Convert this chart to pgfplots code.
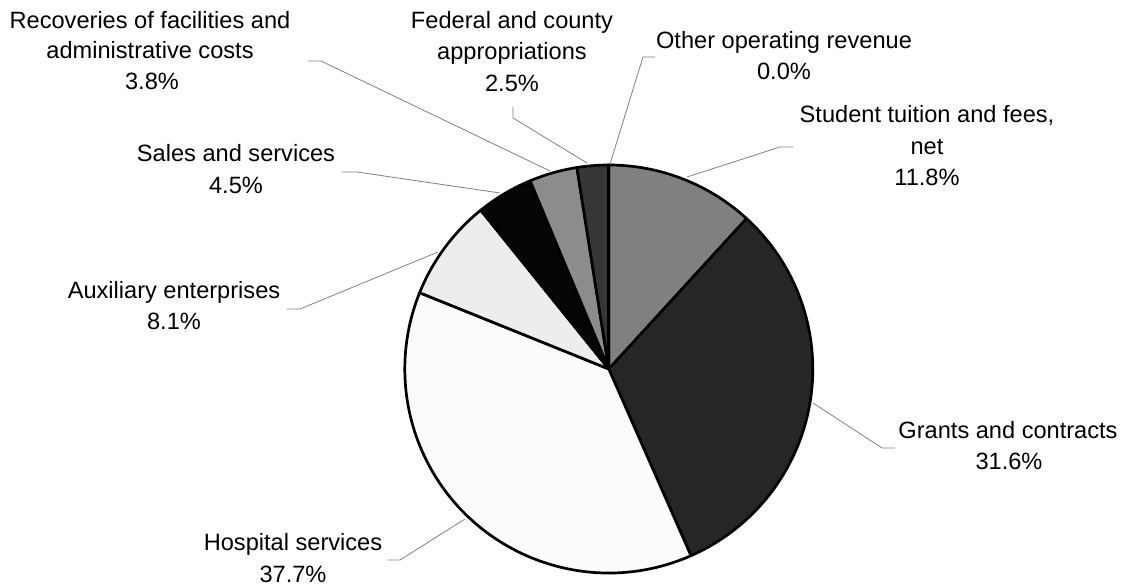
\documentclass[border=0pt]{standalone}
\usepackage{pgfplots}
\usepackage{pgfplotstable}
\pgfplotsset{compat=1.18}
\usepackage{fontspec}
\setmainfont{Liberation Sans}

% revenue shares in percent, clockwise from 12 o'clock; g = grey level of the slice
\pgfplotstableread{
share g
11.8  0.50
31.6  0.15
37.7  0.985
8.1   0.93
4.5   0.02
3.8   0.55
2.5   0.21
0.0   0.50
}\piedata

\newcommand{\lbl}[3]{\node[anchor=base,inner sep=0pt] at (axis cs:#1,#2) {#3};}

\begin{document}
\begin{tikzpicture}
\useasboundingbox (0,0) rectangle (1126pt,586pt);
\begin{axis}[
    scale only axis,
    width=1126pt, height=586pt,
    xmin=0, xmax=1126, ymin=0, ymax=586,
    hide axis, clip=false,
    font=\fontsize{23.6}{31}\selectfont,
    ]
    \pgfplotsextra{%
        \gdef\pieacc{0}%
        \foreach \i in {0,...,7}{%
            \pgfplotstablegetelem{\i}{share}\of\piedata \let\v\pgfplotsretval
            \pgfplotstablegetelem{\i}{g}\of\piedata \let\g\pgfplotsretval
            \definecolor{slicecol}{gray}{\g}%
            \pgfmathsetmacro\sa{90-3.6*\pieacc}%
            \pgfmathsetmacro\ea{90-3.6*(\pieacc+\v)}%
            \draw[line width=2.7pt, line join=round, fill=slicecol]
                (axis cs:608.8,217) -- ++(\sa:204pt)
                arc[start angle=\sa, end angle=\ea, radius=204pt] -- cycle;
            \pgfmathsetmacro\newacc{\pieacc+\v}\xdef\pieacc{\newacc}%
        }%
    }

    % leader lines
    \begin{scope}[draw={rgb,255:red,128;green,128;blue,128}, line width=0.8pt]
        \draw (axis cs:308,525) -- (axis cs:321,525) -- (axis cs:550,415);
        \draw (axis cs:513,479) -- (axis cs:513,468) -- (axis cs:587,423);
        \draw (axis cs:655,529) -- (axis cs:643,529) -- (axis cs:610,422);
        \draw (axis cs:793,439) -- (axis cs:780,439) -- (axis cs:687,409);
        \draw (axis cs:342,414) -- (axis cs:357,414) -- (axis cs:500,393);
        \draw (axis cs:287,277) -- (axis cs:300,277) -- (axis cs:438,334);
        \draw (axis cs:813,183) -- (axis cs:882,138) -- (axis cs:895,138);
        \draw (axis cs:465,67) -- (axis cs:400,26) -- (axis cs:388,26);
    \end{scope}

    % labels
    \lbl{150}{557.7}{Recoveries of facilities and}
    \lbl{150}{527}{administrative costs}
    \lbl{152}{496}{3.8\%}
    \lbl{512}{557.5}{Federal and county}
    \lbl{512}{526}{appropriations}
    \lbl{512}{494.5}{2.5\%}
    \lbl{784}{537.5}{Other operating revenue}
    \lbl{784}{506}{0.0\%}
    \lbl{927}{463}{Student tuition and fees,}
    \lbl{927}{431.7}{net}
    \lbl{927}{400}{11.8\%}
    \lbl{236}{424.3}{Sales and services}
    \lbl{236}{392}{4.5\%}
    \lbl{174}{287}{Auxiliary enterprises}
    \lbl{174}{256}{8.1\%}
    \lbl{1008}{147.7}{Grants and contracts}
    \lbl{1009}{116}{31.6\%}
    \lbl{293}{36}{Hospital services}
    \lbl{293}{3.3}{37.7\%}
\end{axis}
\end{tikzpicture}
\end{document}
